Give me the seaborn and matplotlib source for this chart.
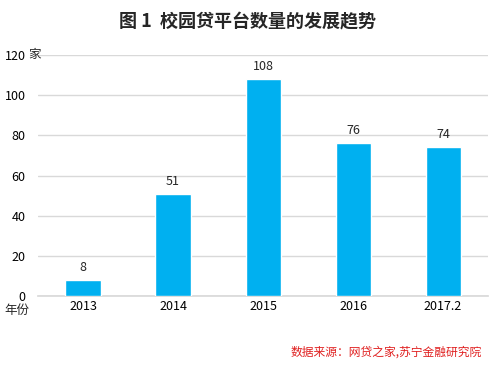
import pandas as pd
import matplotlib
matplotlib.use('Agg')
import matplotlib.pyplot as plt
import seaborn as sns

years = ['2013', '2014', '2015', '2016', '2017.2']
counts = [8, 51, 108, 76, 74]

sns.set_theme(style='white')
plt.rcParams['font.family'] = ['Noto Sans CJK SC', 'DejaVu Sans']

df = pd.DataFrame({'year': years, 'count': counts})

fig = plt.figure(figsize=(4.94, 3.65), dpi=100)
ax = fig.add_axes([0.077, 0.189, 0.911, 0.660])
sns.barplot(data=df, x='year', y='count', color='#00B0F0', saturation=1,
            width=0.39, ax=ax, zorder=3)

ax.set_ylim(0, 120)
ax.set_yticks(range(0, 121, 20))
ax.grid(axis='y', color='#D9D9D9', linewidth=1, zorder=0)
for s in ['top', 'right', 'left']:
    ax.spines[s].set_visible(False)
ax.spines['bottom'].set_color('#D9D9D9')
ax.tick_params(axis='both', length=0, labelsize=9, colors='black')
ax.tick_params(axis='y', pad=9)
ax.tick_params(axis='x', pad=3)
ax.set_xlabel('')
ax.set_ylabel('')

for i, v in enumerate(counts):
    ax.text(i, v + 3, str(v), ha='center', va='bottom', fontsize=9)

fig.text(0.5, 0.94, '图 1  校园贷平台数量的发展趋势', ha='center', va='center',
         fontsize=13, fontweight='bold')
fig.text(0.058, 0.852, '家', ha='left', va='center', fontsize=9)
fig.text(0.008, 0.148, '年份', ha='left', va='center', fontsize=9)
fig.text(0.975, 0.035, '数据来源：网贷之家,苏宁金融研究院', ha='right', va='center',
         fontsize=8.5, color='#E02020', style='italic')

fig.savefig('out.png', dpi=100)
